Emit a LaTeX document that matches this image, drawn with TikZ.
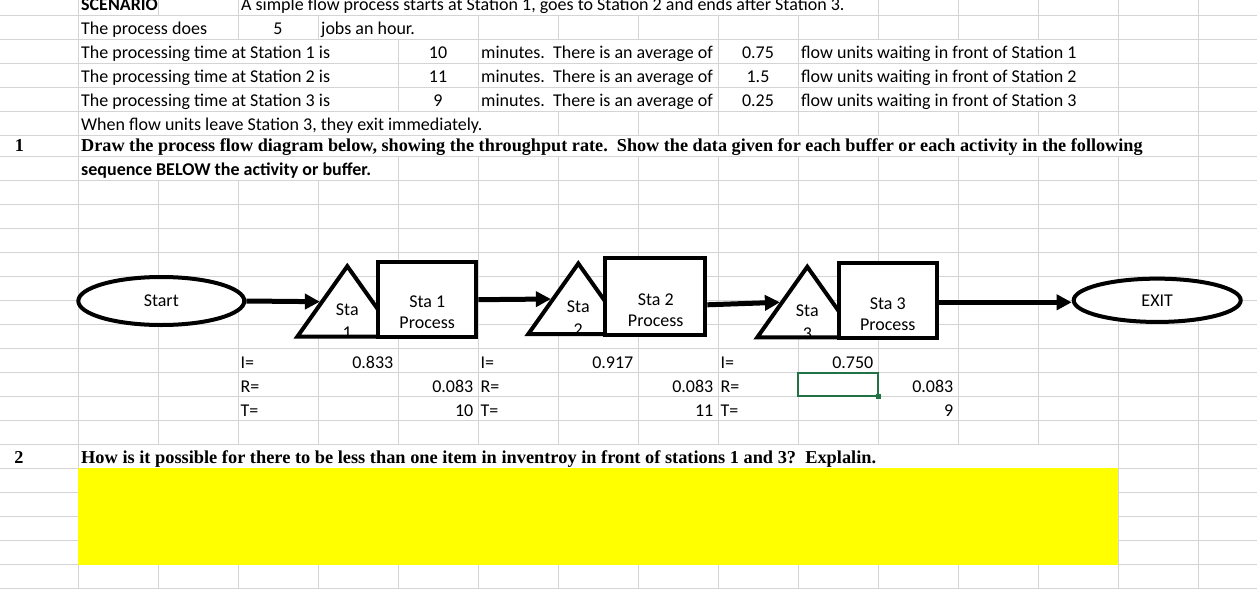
\documentclass[tikz,border=0pt]{standalone}
\usepackage{fontspec}
\usepackage{graphicx}
\setmainfont{Carlito}
\newfontfamily\timesfamily{Liberation Serif}
\usetikzlibrary{arrows.meta,shapes.geometric}

\definecolor{gridgray}{RGB}{212,212,212}
\definecolor{selgreen}{RGB}{33,115,70}
\definecolor{answeryellow}{RGB}{255,255,0}
\newcommand{\cellfont}{\fontsize{18}{20.6}\selectfont}
\newcommand{\askfont}{\timesfamily\bfseries\fontsize{18.2}{22}\selectfont}

\tikzset{
  gridline/.style={draw=gridgray, line width=1pt},
  cell/.style={inner sep=0pt, anchor=base west, font=\cellfont},
  cellright/.style={inner sep=0pt, anchor=base east, font=\cellfont},
  cellmid/.style={inner sep=0pt, anchor=base, font=\cellfont},
  ask/.style={inner sep=0pt, anchor=base west, font=\askfont},
  terminal/.style={ellipse, draw, line width=4pt, fill=white, inner sep=0pt,
    minimum width=166pt, minimum height=48pt, font=\cellfont},
  activity/.style={rectangle, draw, line width=4pt, fill=white, inner sep=0pt},
  boxtext/.style={inner sep=0pt, align=center, font=\cellfont},
  buffertext/.style={inner sep=0pt, align=center, font={\fontsize{18}{23}\selectfont}},
  outline/.style={line width=4pt, line join=miter},
  flow/.style={line width=5pt, -{Triangle[length=15pt,width=15pt]}}
}

\begin{document}
\begin{tikzpicture}[x=1pt, y=-1pt]
\useasboundingbox (0,0) rectangle (1257,589);
\clip (0,0) rectangle (1257,589);
% sheet grid
\foreach \y in {15.3,39.3,63.3,87.3,111.3,135.3,156.7,180.7,204.7,...,590}
  \draw[gridline] (0,\y) -- (1257,\y);
\foreach \x in {78,158,...,1198}
  \draw[gridline] (\x,0) -- (\x,589);
% text running over the cells hides the grid
\foreach \xa/\xb/\ya/\yb in {238/878/-10/15.3, 78/238/15.3/39.3, 318/478/15.3/39.3,
    78/398/39.3/63.3, 478/718/39.3/63.3, 798/1118/39.3/63.3,
    78/398/63.3/87.3, 478/718/63.3/87.3, 798/1118/63.3/87.3,
    78/398/87.3/111.3, 478/718/87.3/111.3, 798/1118/87.3/111.3,
    78/558/111.3/135.3, 78/1198/135.3/156.7, 78/398/156.7/180.7,
    78/1118/444.7/468.7}
  \fill[white] (\xa+0.6,\ya+0.6) rectangle (\xb-0.6,\yb-0.6);
\fill[answeryellow] (78,468.2) rectangle (1118,565.2);
% selected cell
\draw[selgreen, line width=2pt] (797.5,372.7) rectangle (878,396.2);
\fill[selgreen] (875.5,393.7) rectangle (880.5,398.7);

% scenario
\node[cell, font=\cellfont\bfseries] (scen) at (81,10.5) {SCENARIO};
\node[cell] (intro) at (241,10.5) {A simple flow process starts at Station 1, goes to Station 2 and ends after Station 3.};
\node[cell] (does) at (81,34.8) {The process does};
\node[cellmid] (rate) at (278,34.8) {5};
\node[cell] (jobs) at (321,34.8) {jobs an hour.};
\foreach \s/\y/\t/\q in {1/58.8/10/0.75, 2/82.8/11/1.5, 3/106.8/9/0.25} {
  \node[cell] (ptime\s) at (81,\y) {The processing time at Station \s\ is};
  \node[cellmid] (ptval\s) at (438,\y) {\t};
  \node[cell] (avg\s) at (481,\y) {minutes.\ \ There is an average of};
  \node[cellmid] (qval\s) at (758,\y) {\q};
  \node[cell] (wait\s) at (801,\y) {flow units waiting in front of Station \s};
}
\node[cell] (leave) at (81,130.8) {When flow units leave Station 3, they exit immediately.};

% question 1
\node[ask, anchor=base] (q1num) at (19.5,151.5) {1};
\node[ask] (q1) at (81,151.5) {Draw the process flow diagram below, showing the throughput rate.\ \ Show the data given for each buffer or each activity in the following};
\node[cell, font=\cellfont\bfseries] (q1b) at (81,175.8) {sequence BELOW the activity or buffer.};

% I, R, T under the diagram
\foreach \k/\cx in {1/238,2/478,3/718} {
  \node[cell] (ilab\k) at (\cx+2.5,368.2) {I=};
  \node[cell] (rlab\k) at (\cx+2.5,392.2) {R=};
  \node[cell] (tlab\k) at (\cx+2.5,416.2) {T=};
}
\foreach \k/\ix/\rx/\iv/\rv/\tv in {1/393.5/473.5/0.833/0.083/10,
    2/633.5/713.5/0.917/0.083/11, 3/873.5/953.5/0.750/0.083/9} {
  \node[cellright] (ival\k) at (\ix,368.2) {\iv};
  \node[cellright] (rval\k) at (\rx,392.2) {\rv};
  \node[cellright] (tval\k) at (\rx,416.2) {\tv};
}

% question 2
\node[ask, anchor=base] (q2num) at (19,463) {2};
\node[ask] (q2) at (81,463) {\resizebox{795pt}{\height}{How is it possible for there to be less than one item in inventroy in front of stations 1 and 3?\ \ Explalin.}};

% flow diagram
\node[terminal] (start) at (161.3,301) {Start};
\node[terminal, minimum width=167pt, minimum height=43.3pt] (exit) at (1157.2,300.3) {EXIT};
\foreach \n/\ax/\ay in {1/347.3/266.2, 2/578.3/263.5, 3/807.3/266.8} {
  \fill[white] (\ax,\ay) -- (\ax-50,\ay+70.5) -- (\ax+50,\ay+70.5) -- cycle;
  \node[buffertext] (buf\n) at (\ax,\ay+55) {Sta\\\n};
  \draw[outline] (\ax,\ay) -- (\ax-50,\ay+70.5) -- (\ax+50,\ay+70.5) -- cycle;
  \coordinate (in\n) at (\ax-27.4,\ay+35.5);
}
\node[activity, minimum width=98.3pt, minimum height=75.3pt] (sta1) at (427.2,299.7) {};
\node[boxtext] (sta1txt) at (427.2,312.5) {Sta 1\\Process};
\node[activity, minimum width=100pt, minimum height=76.7pt] (sta2) at (655.3,296.3) {};
\node[boxtext] (sta2txt) at (655.7,310) {Sta 2\\Process};
\node[activity, minimum width=98.6pt, minimum height=75.3pt] (sta3) at (888,300.3) {};
\node[boxtext] (sta3txt) at (887.7,314.5) {Sta 3\\Process};

\draw[flow] (start.east) -- (in1);
\draw[flow] (sta1.east) -- (in2);
\draw[flow] ([yshift=-8.5pt]sta2.east) -- (in3);
\draw[flow] ([yshift=-2pt]sta3.east) -- ([yshift=-2pt]exit.west);
\end{tikzpicture}
\end{document}
